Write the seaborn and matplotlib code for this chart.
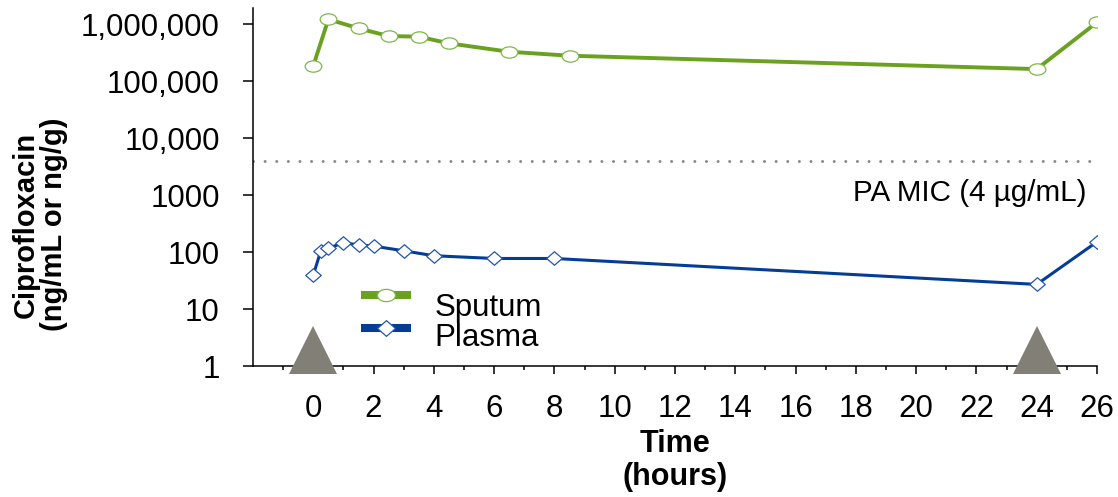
import numpy as np
import pandas as pd
import matplotlib
matplotlib.use("Agg")
import matplotlib.pyplot as plt
import matplotlib.path as mpath
import matplotlib.transforms as mtransforms
import seaborn as sns

# ---------------- data ----------------
sputum_time = [0, 0.5, 1.5, 2.5, 3.5, 4.5, 6.5, 8.5, 24, 26]
sputum_conc = [185000, 1210000, 840000, 615000, 600000, 458000, 326000, 278000, 162000, 1070000]
plasma_time = [0, 0.25, 0.5, 1, 1.5, 2, 3, 4, 6, 8, 24, 26]
plasma_conc = [39.5, 105, 116, 146, 133, 127, 105, 86, 77, 77, 27, 151]
dose_times = [0, 24]
mic_value = 4000
mic_label = "PA MIC (4 µg/mL)"
series_names = ["Sputum", "Plasma"]
y_ticks = [1, 10, 100, 1000, 10000, 100000, 1000000]
y_tick_labels = ["1", "10", "100", "1000", "10,000", "100,000", "1,000,000"]
x_major = list(range(0, 27, 2))
x_minor = list(range(-1, 26, 2))
x_label = "Time\n(hours)"
y_label = "Ciprofloxacin\n(ng/mL or ng/g)"

# ---------------- style ----------------
sns.set_theme(style="white")
plt.rcParams["font.family"] = ["Liberation Sans", "DejaVu Sans"]
plt.rcParams["text.color"] = "black"
plt.rcParams["axes.labelcolor"] = "black"

green = "#6aa121"
green_edge = "#7fb84a"
blue = "#033d96"
blue_edge = "#2255b0"
grey = "#827f77"

circ = mpath.Path.unit_circle()
ellipse = mpath.Path(circ.vertices * np.array([1.0, 0.68]), circ.codes)
diamond = mpath.Path([(-1, 0), (0, 0.87), (1, 0), (0, -0.87), (-1, 0)], [1, 2, 2, 2, 79])

fig = plt.figure(figsize=(11.18, 4.97), dpi=100)
ax = fig.add_axes([253 / 1118, 1 - 366 / 497, (1097 - 253) / 1118, (366 - 8) / 497])

sputum_df = pd.DataFrame({"time": sputum_time, "conc": sputum_conc})
plasma_df = pd.DataFrame({"time": plasma_time, "conc": plasma_conc})

sns.lineplot(data=sputum_df, x="time", y="conc", ax=ax, color=green, lw=2.8,
             marker=ellipse, markersize=12, markerfacecolor="white",
             markeredgecolor=green_edge, markeredgewidth=0.9,
             errorbar=None, label=series_names[0], zorder=3)
sns.lineplot(data=plasma_df, x="time", y="conc", ax=ax, color=blue, lw=2.2,
             marker=diamond, markersize=11.2, markerfacecolor="white",
             markeredgecolor=blue_edge, markeredgewidth=0.9,
             errorbar=None, label=series_names[1], zorder=3)

# MIC line
ax.axhline(mic_value, xmin=0, xmax=0.996, color="#8c8c8c",
           lw=2.2, linestyle=(0, (0.001, 3.8)), dash_capstyle="round", zorder=2)
ax.text(0.988, 0.483, mic_label, transform=ax.transAxes, ha="right", va="center",
        fontsize=21.3, color="black")

# dose triangles
trans = mtransforms.blended_transform_factory(ax.transData, ax.transAxes)
ax.plot(dose_times, [0.0455] * len(dose_times), transform=trans, ls="none",
        marker="^", markersize=34.3, color=grey, markeredgewidth=0,
        clip_on=False, zorder=6)

# axes
ax.set_yscale("log")
ax.set_ylim(1, 1.91e6)
ax.set_xlim(-2, 26)
ax.set_yticks(y_ticks)
ax.set_yticklabels(y_tick_labels)
ax.yaxis.set_minor_locator(matplotlib.ticker.NullLocator())
ax.set_xticks(x_major)
ax.set_xticks(x_minor, minor=True)

for s in ["top", "right"]:
    ax.spines[s].set_visible(False)
for s in ["left", "bottom"]:
    ax.spines[s].set_color("black")
    ax.spines[s].set_linewidth(1.1)

ax.tick_params(axis="y", which="major", direction="out", length=7, width=1.1,
               color="black", labelsize=22.5, pad=17, left=True, labelcolor="black")
ax.tick_params(axis="x", which="major", direction="out", length=5.5, width=1.1,
               color="black", labelsize=22.5, pad=15, bottom=True, labelcolor="black")
ax.tick_params(axis="x", which="minor", direction="out", length=3, width=1.1,
               color="black", bottom=True)

ax.set_xlabel(x_label, fontsize=22, fontweight="bold", linespacing=1.13, labelpad=3,
              color="black")
ax.set_ylabel(y_label, fontsize=21, fontweight="bold", linespacing=1.02,
              multialignment="center", color="black")
ax.yaxis.set_label_coords(-0.219, 0.395)
ax.grid(False)

leg = ax.legend(loc="upper left", bbox_to_anchor=(0.128, 0.204), frameon=False,
                fontsize=22.5, borderpad=0, borderaxespad=0, handlelength=1.6,
                handletextpad=0.75, labelspacing=0.0, labelcolor="black")
handle_lift = [7.5, 4.9]  # points, raise the legend keys like in the original
for h, lift in zip(leg.legend_handles, handle_lift):
    h.set_linewidth(5.8)
    h.set_solid_capstyle("butt")
    h.set_markersize(13)
    h.set_ydata(np.asarray(h.get_ydata(), dtype=float) + lift)

fig.savefig("out.png", dpi=100, facecolor="white")
